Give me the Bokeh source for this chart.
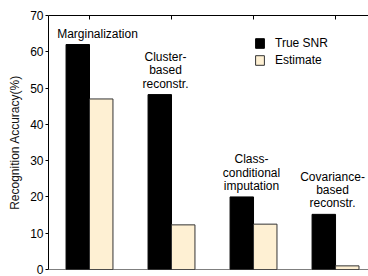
from bokeh.plotting import figure
from bokeh.models import FixedTicker, Span, Legend, LegendItem, ColumnDataSource, CustomJSTickFormatter
from bokeh.transform import dodge
from bokeh.core.properties import value
from bokeh.embed import file_html
from bokeh.resources import INLINE

# ---- data ----
categories = ["Marginalization", "Cluster-\nbased\nreconstr.", "Class-\nconditional\nimputation", "Covariance-\nbased\nreconstr."]
true_snr = [62.0, 48.2, 20.0, 15.2]
estimate = [47.0, 12.3, 12.5, 1.0]
y_ticks = [0, 10, 20, 30, 40, 50, 60, 70]
series_names = ["True SNR", "Estimate"]

# ---- styles ----
label_dx = [8, -6, -2, -3]
FONT = "Liberation Sans"

xs = list(range(1, len(categories) + 1))
src = ColumnDataSource(dict(x=xs, t=true_snr, e=estimate, lab=categories, dx=label_dx))

p = figure(width=368, height=276, x_range=(0.5, 4.402), y_range=(0, 70),
           output_backend="svg", toolbar_location=None, x_axis_location="above",
           min_border_top=15, min_border_bottom=7, min_border_left=48, min_border_right=0)
p.outline_line_color = None
p.grid.grid_line_color = None
p.background_fill_color = "white"

r1 = p.vbar(x=dodge("x", -0.143, range=p.x_range), top="t", width=0.286, source=src,
            fill_color="black", line_color="black", line_width=1)
r2 = p.vbar(x=dodge("x", 0.143, range=p.x_range), top="e", width=0.286, source=src,
            fill_color="#FEF0D3", line_color="#333333", line_width=1)

p.text(x="x", y="t", text="lab", source=src, x_offset="dx", y_offset=-4,
       text_align="center", text_baseline="bottom", text_font=value(FONT),
       text_font_size="12px", text_line_height=0.95, text_color="black")

# axes
p.yaxis.ticker = FixedTicker(ticks=y_ticks)
p.yaxis.axis_label = "Recognition Accuracy(%)"
p.yaxis.axis_label_text_font = FONT
p.yaxis.axis_label_text_font_style = "normal"
p.yaxis.axis_label_text_font_size = "12px"
p.yaxis.axis_label_text_color = "#111111"
p.yaxis.axis_label_standoff = 5
p.yaxis.major_label_text_font = FONT
p.yaxis.major_label_text_font_size = "12px"
p.yaxis.major_label_text_color = "black"
p.yaxis.major_label_standoff = 2
p.yaxis.major_tick_out = 3
p.yaxis.major_tick_in = 0
p.yaxis.major_tick_line_color = "black"
p.yaxis.minor_tick_line_color = None
p.yaxis.axis_line_color = "black"

p.xaxis.ticker = FixedTicker(ticks=xs)
p.xaxis.formatter = CustomJSTickFormatter(code="return ''")
p.xaxis.major_label_standoff = 0
p.xaxis.major_tick_in = 4
p.xaxis.major_tick_out = 0
p.xaxis.major_tick_line_color = "black"
p.xaxis.minor_tick_line_color = None
p.xaxis.axis_line_color = "black"

p.add_layout(Span(location=0, dimension="width", line_color="black", line_width=1))

legend = Legend(items=[LegendItem(label=series_names[0], renderers=[r1]),
                       LegendItem(label=series_names[1], renderers=[r2])],
                location=(206, 202), orientation="vertical")
legend.border_line_color = None
legend.background_fill_alpha = 0
legend.padding = 0
legend.margin = 0
legend.spacing = 3
legend.glyph_width = 11
legend.glyph_height = 12
legend.label_standoff = 10
legend.label_text_font = FONT
legend.label_text_font_size = "12px"
legend.label_text_color = "black"
legend.label_height = 12
p.add_layout(legend, "center")

open("out.html", "w").write(file_html(p, INLINE))
